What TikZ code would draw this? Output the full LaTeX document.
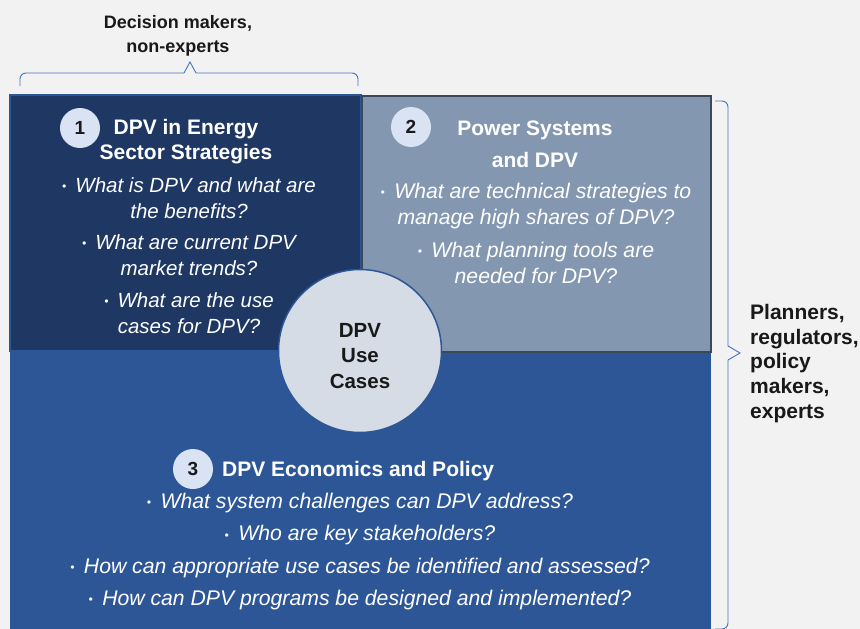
\documentclass[tikz,border=0pt]{standalone}
\usepackage{fontspec}
\setmainfont{Liberation Sans}
\definecolor{bgray}{HTML}{F2F2F2}
\definecolor{navy}{HTML}{1E3763}
\definecolor{slate}{HTML}{8497B0}
\definecolor{slateline}{HTML}{3B4859}
\definecolor{royal}{HTML}{2D5697}
\definecolor{hubfill}{HTML}{D6DCE5}
\definecolor{numfill}{HTML}{DAE3F3}
\definecolor{bracecol}{HTML}{4472C4}
\newcommand{\qb}{\raisebox{1.8pt}{\fontsize{12}{12}\selectfont •}\ \,}
\tikzset{
  title/.style={text=white, font=\fontsize{21}{25}\selectfont\bfseries, align=center, inner sep=0pt},
  quest/.style={text=white, font=\fontsize{20.5}{26}\selectfont\itshape, align=center, inner sep=0pt},
  num/.style={circle, fill=numfill, minimum size=40pt, inner sep=0pt, font=\fontsize{19}{20}\selectfont\bfseries, text=black!90},
  who/.style={text=black!90, font=\fontsize{21}{24.75}\selectfont\bfseries, inner sep=0pt}
}
\begin{document}
\begin{tikzpicture}[x=1pt, y=-1pt]
  \fill[bgray] (0,0) rectangle (860,629);
  \useasboundingbox (0,0) rectangle (860,629);

  \fill[royal] (10,351) rectangle (711,629);
  \draw[royal, fill=navy, line width=1.2pt] (10,95) rectangle (361,351);
  \draw[slateline, fill=slate, line width=1.5pt] (362,96) rectangle (711,352);

  \node[circle, draw=royal, line width=1.5pt, fill=hubfill, minimum size=163pt, inner sep=0pt] (hub) at (360,351) {};
  \node[who, align=center, font=\fontsize{20.5}{25.5}\selectfont\bfseries] (hubtext) at (360,356) {DPV\\Use\\Cases};

  \node[num] (n1) at (80,128) {1};
  \node[title] (t1) at (186,141.5) {DPV in Energy\\Sector Strategies};
  \node[quest] (q1) at (189,255.5) {\qb What is DPV and what are\\the benefits?\\[5pt]
    \qb What are current DPV\\market trends?\\[6pt]
    \qb What are the use\\cases for DPV?};

  \node[num] (n2) at (411,127) {2};
  \node[title, font=\fontsize{21}{32}\selectfont\bfseries] (t2) at (535,144) {Power Systems\\and DPV};
  \node[quest, font=\fontsize{21.2}{26}\selectfont\itshape] (q2) at (536,233) {\qb What are technical strategies to\\manage high shares of DPV?\\[7pt]
    \qb What planning tools are\\needed for DPV?};

  \node[num] (n3) at (193,469) {3};
  \node[title, anchor=west] (t3) at (222,471) {DPV Economics and Policy};
  \node[quest, font=\fontsize{21.2}{32.3}\selectfont\itshape] (q3) at (360,551.5) {\qb What system challenges can DPV address?\\
    \qb Who are key stakeholders?\\
    \qb How can appropriate use cases be identified and assessed?\\
    \qb How can DPV programs be designed and implemented?};

  \node[who, align=center, font=\fontsize{18}{24}\selectfont\bfseries] (top) at (178,36) {Decision makers,\\non-experts};
  \node[who, align=left, anchor=west] (side) at (750,363.5) {Planners,\\regulators,\\policy\\makers,\\experts};

  \draw[bracecol, line width=0.9pt, rounded corners=6pt] (20,86) |- (184,73);
  \draw[bracecol, line width=0.9pt] (184,73) -- (190,62) -- (196,73);
  \draw[bracecol, line width=0.9pt, rounded corners=6pt] (196,73) -| (358,86);

  \draw[bracecol, line width=0.9pt, rounded corners=6pt] (715,101) -| (728,346);
  \draw[bracecol, line width=0.9pt] (728,346) -- (740,353) -- (728,360);
  \draw[bracecol, line width=0.9pt, rounded corners=6pt] (728,360) |- (715,629);
\end{tikzpicture}
\end{document}
